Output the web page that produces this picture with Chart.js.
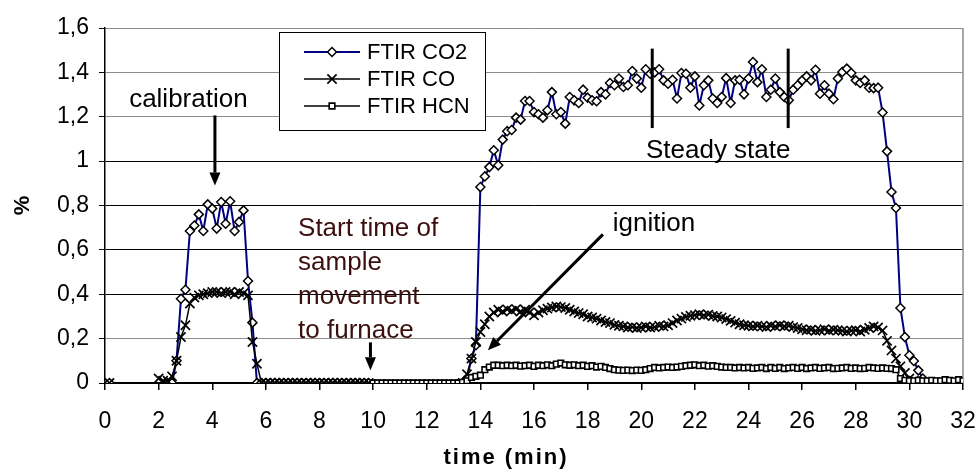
<!DOCTYPE html>
<html>
<head>
<meta charset="utf-8">
<script src="https://cdn.jsdelivr.net/npm/chart.js@4.4.1/dist/chart.umd.min.js"></script>
<style>
  html, body { margin: 0; padding: 0; background: #fff; }
  #chart { display: block; }
</style>
</head>
<body>
<canvas id="chart" width="979" height="470"></canvas>
<script>
// one FTIR spectrum every 10 s, so sample k sits at k/6 min
const SAMPLE_MIN = 1 / 6;

// CO2 (%)
const co2Blank = [0];                                   // sample 1
const co2Cal = [                                        // samples 14..59
  0, 0, 0.10, 0.38, 0.42, 0.685, 0.71, 0.76, 0.685, 0.805,
  0.786, 0.696, 0.816, 0.718, 0.819, 0.685, 0.726, 0.778, 0.46, 0.272,
  0, 0, 0, 0, 0, 0, 0, 0, 0, 0,
  0, 0, 0, 0, 0, 0, 0, 0, 0, 0,
  0, 0, 0, 0, 0, 0,
];
const co2Test = [                                       // samples 80..184
  0, 0.02, 0.11, 0.17,
  0.883, 0.931, 0.973, 1.049, 0.981, 1.097, 1.135, 1.14, 1.196, 1.187,
  1.271, 1.271, 1.221, 1.211, 1.196, 1.229, 1.311, 1.211, 1.221, 1.169,
  1.289, 1.274, 1.262, 1.322, 1.286, 1.274, 1.27, 1.311, 1.301, 1.352,
  1.342, 1.372, 1.334, 1.342, 1.406, 1.372, 1.331, 1.414, 1.394, 1.40,
  1.414, 1.364, 1.349, 1.367, 1.282, 1.397, 1.394, 1.331, 1.382, 1.251,
  1.342, 1.364, 1.282, 1.262, 1.289, 1.374, 1.262, 1.364, 1.367, 1.301,
  1.372, 1.447, 1.356, 1.414, 1.289, 1.322, 1.372, 1.311, 1.289, 1.274,
  1.322, 1.342, 1.364, 1.382, 1.364, 1.412, 1.304, 1.342, 1.304, 1.279,
  1.372, 1.402, 1.417, 1.397, 1.364, 1.352, 1.364, 1.331, 1.329, 1.331,
  1.219, 1.044, 0.861, 0.789, 0.338, 0.207, 0.125, 0.099, 0.057, 0.02,
  0,
];

// CO (%)
const coBlank = [0];                                    // sample 1
const coCal = [                                         // samples 12..59
  0.02, 0.01, 0.01, 0.03, 0.10, 0.207, 0.26, 0.358, 0.385, 0.395,
  0.40, 0.405, 0.41, 0.41, 0.405, 0.41, 0.41, 0.40, 0.41, 0.405,
  0.395, 0.185, 0.087,
  0, 0, 0, 0, 0, 0, 0, 0, 0, 0,
  0, 0, 0, 0, 0, 0, 0, 0, 0, 0,
  0, 0, 0, 0, 0,
];
const coTest = [                                        // samples 80..184
  0, 0.04, 0.11, 0.185,
  0.23, 0.265, 0.30, 0.318, 0.33, 0.322, 0.332, 0.326, 0.333, 0.322,
  0.33, 0.318, 0.305, 0.318, 0.328, 0.335, 0.34, 0.345, 0.342, 0.338,
  0.33, 0.322, 0.315, 0.31, 0.30, 0.295, 0.29, 0.282, 0.275, 0.27,
  0.262, 0.258, 0.255, 0.25, 0.252, 0.248, 0.25, 0.255, 0.25, 0.252,
  0.258, 0.255, 0.26, 0.27, 0.282, 0.29, 0.298, 0.303, 0.306, 0.31,
  0.305, 0.308, 0.302, 0.30, 0.295, 0.288, 0.28, 0.272, 0.265, 0.26,
  0.258, 0.255, 0.258, 0.255, 0.252, 0.258, 0.255, 0.26, 0.256, 0.258,
  0.252, 0.248, 0.242, 0.238, 0.24, 0.235, 0.238, 0.242, 0.236, 0.24,
  0.238, 0.235, 0.232, 0.236, 0.238, 0.232, 0.24, 0.248, 0.255, 0.25,
  0.237, 0.19, 0.147, 0.11, 0.075, 0.045, 0.02, 0.01, 0, 0,
  0,
];

// HCN (%)
const hcnTest = [                                       // samples 60..192
  0, 0, 0, 0, 0, 0, 0, 0, 0, 0,
  0, 0, 0, 0, 0, 0, 0, 0, 0, 0,
  0.003, 0.01, 0.025, 0.03, 0.035, 0.06, 0.072, 0.08, 0.08, 0.078,
  0.08, 0.078, 0.08, 0.076, 0.078, 0.08, 0.075, 0.08, 0.078, 0.082,
  0.078, 0.085, 0.09, 0.082, 0.08, 0.082, 0.078, 0.08, 0.075, 0.078,
  0.072, 0.075, 0.07, 0.065, 0.06, 0.058, 0.057, 0.058, 0.056, 0.058,
  0.057, 0.06, 0.065, 0.07, 0.068, 0.07, 0.072, 0.07, 0.072, 0.075,
  0.078, 0.08, 0.082, 0.078, 0.08, 0.076, 0.078, 0.075, 0.072, 0.07,
  0.07, 0.068, 0.07, 0.068, 0.07, 0.066, 0.068, 0.07, 0.065, 0.07,
  0.066, 0.07, 0.065, 0.068, 0.07, 0.066, 0.07, 0.065, 0.068, 0.07,
  0.066, 0.068, 0.07, 0.065, 0.066, 0.068, 0.07, 0.066, 0.068, 0.065,
  0.066, 0.07, 0.068, 0.066, 0.068, 0.066, 0.065, 0.06, 0.02, 0.012,
  0.01, 0.01, 0.012, 0.01, 0.01, 0.012, 0.01, 0.01, 0.015, 0.012,
  0.01, 0.015, 0.01,
];

const X_TICKS = { min: 0, max: 32, step: 2 };
const Y_TICKS = { min: 0, max: 1.6, step: 0.2 };
const X_TITLE = 'time (min)';

const FONT = '"Liberation Sans", Arial, sans-serif';

// runs of samples; a null point between runs breaks the line
function toPoints(runs) {
  const pts = [];
  runs.forEach(([start, vals], r) => {
    if (r > 0) pts.push({ x: (start - 0.5) * SAMPLE_MIN, y: null });
    vals.forEach((v, i) => pts.push({ x: (start + i) * SAMPLE_MIN, y: v }));
  });
  return pts;
}

const datasets = [
  {
    label: 'FTIR CO2',
    data: toPoints([[1, co2Blank], [14, co2Cal], [80, co2Test]]),
    borderColor: '#000080', borderWidth: 2,
    pointStyle: 'rectRot', pointRadius: 4.5,
    pointBorderColor: '#000', pointBackgroundColor: '#fff', pointBorderWidth: 1.5,
    order: 3,
  },
  {
    label: 'FTIR CO',
    data: toPoints([[1, coBlank], [12, coCal], [80, coTest]]),
    borderColor: '#000', borderWidth: 1.5,
    pointStyle: 'crossRot', pointRadius: 6.5,
    pointBorderColor: '#000', pointBackgroundColor: '#fff', pointBorderWidth: 1.7,
    order: 2,
  },
  {
    label: 'FTIR HCN',
    data: toPoints([[60, hcnTest]]),
    borderColor: '#000', borderWidth: 1.5,
    pointStyle: 'rect', pointRadius: 4,
    pointBorderColor: '#000', pointBackgroundColor: '#fff', pointBorderWidth: 1.6,
    order: 1,
  },
];

// annotations, in data units
const calibNote = { text: 'calibration', t: 3.11, v: 1.242 };
const calibArrow = [4.1, 1.206, 4.1, 0.89];
const startNote = { lines: ['Start time of', 'sample', 'movement', 'to furnace'], t: 7.2, v: 0.661, step: 0.152 };
const startArrow = [9.9, 0.183, 9.9, 0.057];
const ignitionNote = { text: 'ignition', t: 18.94, v: 0.683 };
const ignitionArrow = [18.57, 0.67, 14.28, 0.148];
const steadyNote = { text: 'Steady state', t: 22.87, v: 1.013 };
const steadyMarks = { t: [20.41, 25.48], from: 1.149, to: 1.507 };

function arrow(ctx, x1, y1, x2, y2) {
  const a = Math.atan2(y2 - y1, x2 - x1);
  const head = 13, half = 5.5;
  const bx = x2 - head * Math.cos(a), by = y2 - head * Math.sin(a);
  ctx.lineWidth = 3;
  ctx.beginPath(); ctx.moveTo(x1, y1); ctx.lineTo(bx, by); ctx.stroke();
  ctx.beginPath();
  ctx.moveTo(x2, y2);
  ctx.lineTo(bx + half * Math.sin(a), by - half * Math.cos(a));
  ctx.lineTo(bx - half * Math.sin(a), by + half * Math.cos(a));
  ctx.closePath(); ctx.fill();
}

function marker(ctx, style, x, y, r) {
  ctx.beginPath();
  if (style === 'rectRot') {
    ctx.moveTo(x - r, y); ctx.lineTo(x, y - r); ctx.lineTo(x + r, y); ctx.lineTo(x, y + r); ctx.closePath();
    ctx.fill(); ctx.stroke();
  } else if (style === 'rect') {
    const s = r * Math.SQRT1_2;
    ctx.rect(x - s, y - s, 2 * s, 2 * s); ctx.fill(); ctx.stroke();
  } else {
    const s = r * Math.SQRT1_2;
    ctx.moveTo(x - s, y - s); ctx.lineTo(x + s, y + s);
    ctx.moveTo(x + s, y - s); ctx.lineTo(x - s, y + s); ctx.stroke();
  }
}

const frame = {
  id: 'frame',
  beforeDatasetsDraw(chart) {
    const { ctx, chartArea: a } = chart;
    ctx.save();
    ctx.strokeStyle = '#8c8c8c'; ctx.lineWidth = 1.5;
    ctx.beginPath(); ctx.moveTo(a.right, a.top); ctx.lineTo(a.right, a.bottom); ctx.stroke();
    ctx.restore();
  },
  afterDatasetsDraw(chart) {
    const { ctx, chartArea: a, scales: { x, y } } = chart;
    const px = t => x.getPixelForValue(t), py = v => y.getPixelForValue(v);
    ctx.save();
    ctx.fillStyle = '#000'; ctx.strokeStyle = '#000';
    ctx.font = '26px ' + FONT;
    ctx.textBaseline = 'alphabetic';

    ctx.textAlign = 'center';
    ctx.fillText(calibNote.text, px(calibNote.t), py(calibNote.v));
    ctx.fillText(steadyNote.text, px(steadyNote.t), py(steadyNote.v));
    ctx.textAlign = 'left';
    ctx.fillText(ignitionNote.text, px(ignitionNote.t), py(ignitionNote.v));

    ctx.fillStyle = '#3c0f0f';
    startNote.lines.forEach((s, i) => ctx.fillText(s, px(startNote.t), py(startNote.v - i * startNote.step)));
    ctx.fillStyle = '#000';

    [calibArrow, startArrow, ignitionArrow].forEach(([t1, v1, t2, v2]) =>
      arrow(ctx, px(t1), py(v1), px(t2), py(v2)));

    ctx.lineWidth = 3;
    steadyMarks.t.forEach(t => {
      ctx.beginPath(); ctx.moveTo(px(t), py(steadyMarks.from)); ctx.lineTo(px(t), py(steadyMarks.to)); ctx.stroke();
    });

    // legend box inside the plot, as in the spreadsheet
    const lx = a.left + 174, ly = a.top + 4, lw = 206, lh = 98;
    ctx.fillStyle = '#fff'; ctx.fillRect(lx, ly, lw, lh);
    ctx.lineWidth = 1; ctx.strokeStyle = '#000';
    ctx.strokeRect(lx + 0.5, ly + 0.5, lw, lh);
    ctx.font = '22px ' + FONT;
    ctx.textBaseline = 'middle';
    chart.data.datasets.forEach((ds, i) => {
      const cy = ly + 20 + i * 27;
      ctx.strokeStyle = ds.borderColor; ctx.lineWidth = ds.borderWidth;
      ctx.beginPath(); ctx.moveTo(lx + 25, cy); ctx.lineTo(lx + 81, cy); ctx.stroke();
      ctx.strokeStyle = ds.pointBorderColor; ctx.fillStyle = ds.pointBackgroundColor; ctx.lineWidth = ds.pointBorderWidth;
      marker(ctx, ds.pointStyle, lx + 53, cy, ds.pointRadius);
      ctx.fillStyle = '#000';
      ctx.fillText(ds.label, lx + 88, cy + 1);
    });

    // x title sits left of the plot centre and is letter-spaced in the original
    ctx.font = 'bold 22px ' + FONT;
    ctx.letterSpacing = '2px';
    ctx.textAlign = 'center';
    ctx.textBaseline = 'middle';
    ctx.fillText(X_TITLE, 506, chart.height - 12);
    ctx.restore();
  },
};

const gridColor = c => {
  const v = Math.round(c.tick.value * 10) / 10;
  return (v === 0.2 || v >= 1.2) ? '#8c8c8c' : '#000';
};

new Chart(document.getElementById('chart'), {
  type: 'line',
  data: { datasets },
  plugins: [frame],
  options: {
    responsive: false,
    animation: false,
    events: [],
    spanGaps: false,
    layout: { padding: { left: 0, right: 16, top: 28, bottom: 0 } },
    plugins: { legend: { display: false }, tooltip: { enabled: false } },
    scales: {
      x: {
        type: 'linear',
        min: X_TICKS.min, max: X_TICKS.max,
        // fixed plot box: no extra room for the overhanging end labels
        afterFit: s => { s.height = 87; s.paddingLeft = 0; s.paddingRight = 0; },
        border: { color: '#000', width: 1.5 },
        grid: { drawOnChartArea: false, tickLength: 7, color: '#000', lineWidth: 1.5 },
        ticks: {
          stepSize: X_TICKS.step, autoSkip: false, maxRotation: 0, padding: 18,
          color: '#000', font: { family: FONT, size: 23 },
        },
        title: { display: false },
      },
      y: {
        min: Y_TICKS.min, max: Y_TICKS.max,
        afterFit: s => { s.width = 105; s.paddingTop = 0; s.paddingBottom = 0; },
        border: { color: '#000', width: 1.5 },
        grid: { color: gridColor, tickColor: '#000', tickLength: 6, lineWidth: 1 },
        ticks: {
          stepSize: Y_TICKS.step, padding: 10, color: '#000',
          font: { family: FONT, size: 23 },
          callback: v => String(Math.round(v * 10) / 10).replace('.', ','),
        },
        title: {
          display: true, text: '%', color: '#000',
          font: { family: FONT, size: 22, weight: 'bold', lineHeight: 1 },
          padding: { top: 12, bottom: 0 },
        },
      },
    },
  },
});
</script>
</body>
</html>
